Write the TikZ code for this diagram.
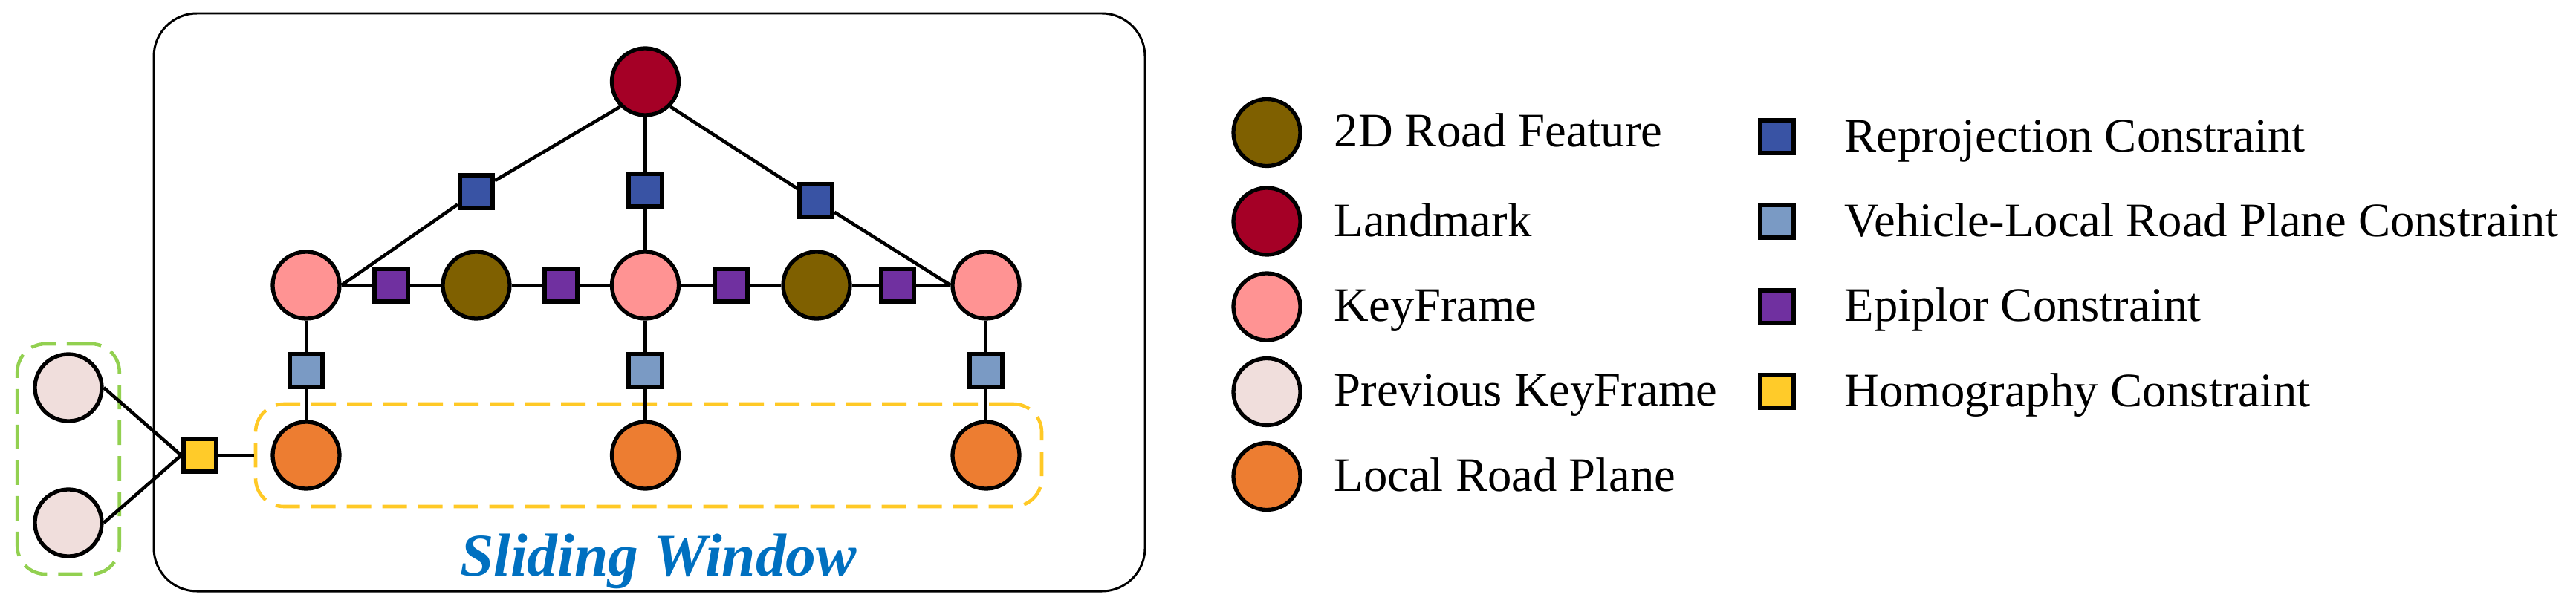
\documentclass[tikz,border=0pt]{standalone}
\usepackage{fontspec}
\setmainfont{Liberation Serif}
\usetikzlibrary{positioning}

\definecolor{featurecol}{HTML}{7F6000}
\definecolor{landmarkcol}{HTML}{A50026}
\definecolor{keyframecol}{HTML}{FF9393}
\definecolor{prevcol}{HTML}{F0DEDC}
\definecolor{planecol}{HTML}{ED7D31}
\definecolor{reprojcol}{HTML}{3953A4}
\definecolor{vehiclecol}{HTML}{7A9AC4}
\definecolor{epicol}{HTML}{7030A0}
\definecolor{homocol}{HTML}{FFCB29}
\definecolor{greenbox}{HTML}{92D050}
\definecolor{yellowbox}{HTML}{FFC926}
\definecolor{titlecol}{HTML}{0070C0}

\begin{document}
\begin{tikzpicture}[
    vertex/.style={circle, draw, line width=1.5pt, minimum size=0.90cm, inner sep=0pt},
    factor/.style={rectangle, draw, line width=1.6pt, minimum size=0.445cm, inner sep=0pt},
    edge/.style={draw, line width=1.3pt},
    window/.style={draw, rounded corners=0.38cm, line width=1.3pt, dash pattern=on 0.33cm off 0.15cm},
    legend/.style={anchor=base west, inner sep=0pt, font=\fontsize{18.4pt}{20pt}\selectfont}
]
\useasboundingbox (0,0) rectangle (34.67,8.19);

% Frames
\node[draw, rounded corners=0.58cm, line width=0.85pt, minimum width=13.34cm, minimum height=7.78cm] (SW) at (8.74, 4.12) {};
\node[window, color=greenbox, minimum width=1.375cm, minimum height=3.10cm] (PW) at (0.92, 2.01) {};
\node[window, color=yellowbox, minimum width=10.58cm, minimum height=1.38cm] (LW) at (8.73, 2.06) {};
\node[anchor=base, inner sep=0pt, color=titlecol, font=\fontsize{23.2pt}{26pt}\selectfont\bfseries\itshape] (title) at (8.86, 0.44) {Sliding Window};

% Define node positions
\node[vertex, fill=landmarkcol] (LM) at (8.685, 7.09) {};
\node[vertex, fill=keyframecol] (KF1) at (4.12, 4.35) {};
\node[vertex, fill=featurecol] (F1) at (6.41, 4.35) {};
\node[vertex, fill=keyframecol] (KF2) at (8.685, 4.35) {};
\node[vertex, fill=featurecol] (F2) at (10.99, 4.35) {};
\node[vertex, fill=keyframecol] (KF3) at (13.27, 4.35) {};
\node[vertex, fill=planecol] (LP1) at (4.12, 2.06) {};
\node[vertex, fill=planecol] (LP2) at (8.685, 2.06) {};
\node[vertex, fill=planecol] (LP3) at (13.27, 2.06) {};
\node[vertex, fill=prevcol] (P1) at (0.92, 2.97) {};
\node[vertex, fill=prevcol] (P2) at (0.92, 1.15) {};

% Constraint squares
\node[factor, fill=reprojcol] (R1) at (6.41, 5.61) {};
\node[factor, fill=reprojcol] (R2) at (8.685, 5.63) {};
\node[factor, fill=reprojcol] (R3) at (10.98, 5.49) {};
\node[factor, fill=epicol] (E1) at (5.265, 4.35) {};
\node[factor, fill=epicol] (E2) at (7.55, 4.35) {};
\node[factor, fill=epicol] (E3) at (9.84, 4.35) {};
\node[factor, fill=epicol] (E4) at (12.08, 4.35) {};
\node[factor, fill=vehiclecol] (V1) at (4.12, 3.20) {};
\node[factor, fill=vehiclecol] (V2) at (8.685, 3.20) {};
\node[factor, fill=vehiclecol] (V3) at (13.27, 3.20) {};
\node[factor, fill=homocol] (H) at (2.69, 2.06) {};

% Draw edges
\draw[edge] (LM.-135) -- (R1);
\draw[edge] (R1) -- (KF1.east);
\draw[edge] (LM) -- (R2);
\draw[edge] (R2) -- (KF2);
\draw[edge] (LM.-45) -- (R3);
\draw[edge] (R3) -- (KF3.west);
\draw[edge] (KF1) -- (E1);
\draw[edge] (E1) -- (F1);
\draw[edge] (F1) -- (E2);
\draw[edge] (E2) -- (KF2);
\draw[edge] (KF2) -- (E3);
\draw[edge] (E3) -- (F2);
\draw[edge] (F2) -- (E4);
\draw[edge] (E4) -- (KF3);
\draw[edge] (KF1) -- (V1);
\draw[edge] (V1) -- (LP1);
\draw[edge] (KF2) -- (V2);
\draw[edge] (V2) -- (LP2);
\draw[edge] (KF3) -- (V3);
\draw[edge] (V3) -- (LP3);
\draw[edge] (P1.east) -- (H.west);
\draw[edge] (P2.east) -- (H.west);
\draw[edge] (H) -- (LW.west);

% Legend of variables
\node[vertex, fill=featurecol] (lg1) at (17.05, 6.405) {};
\node[vertex, fill=landmarkcol] (lg2) at (17.05, 5.21) {};
\node[vertex, fill=keyframecol] (lg3) at (17.05, 4.06) {};
\node[vertex, fill=prevcol] (lg4) at (17.05, 2.915) {};
\node[vertex, fill=planecol] (lg5) at (17.05, 1.775) {};
\node[legend] (tx1) at (17.95, 6.215) {2D Road Feature};
\node[legend] (tx2) at (17.95, 5.01) {Landmark};
\node[legend] (tx3) at (17.95, 3.87) {KeyFrame};
\node[legend] (tx4) at (17.95, 2.725) {Previous KeyFrame};
\node[legend] (tx5) at (17.95, 1.58) {Local Road Plane};

% Legend of constraints
\node[factor, fill=reprojcol] (lg6) at (23.915, 6.35) {};
\node[factor, fill=vehiclecol] (lg7) at (23.915, 5.21) {};
\node[factor, fill=epicol] (lg8) at (23.915, 4.06) {};
\node[factor, fill=homocol] (lg9) at (23.915, 2.92) {};
\node[legend] (tx6) at (24.82, 6.15) {Reprojection Constraint};
\node[legend] (tx7) at (24.82, 5.01) {Vehicle-Local Road Plane Constraint};
\node[legend] (tx8) at (24.82, 3.87) {Epiplor Constraint};
\node[legend] (tx9) at (24.82, 2.72) {Homography Constraint};

\end{tikzpicture}
\end{document}
